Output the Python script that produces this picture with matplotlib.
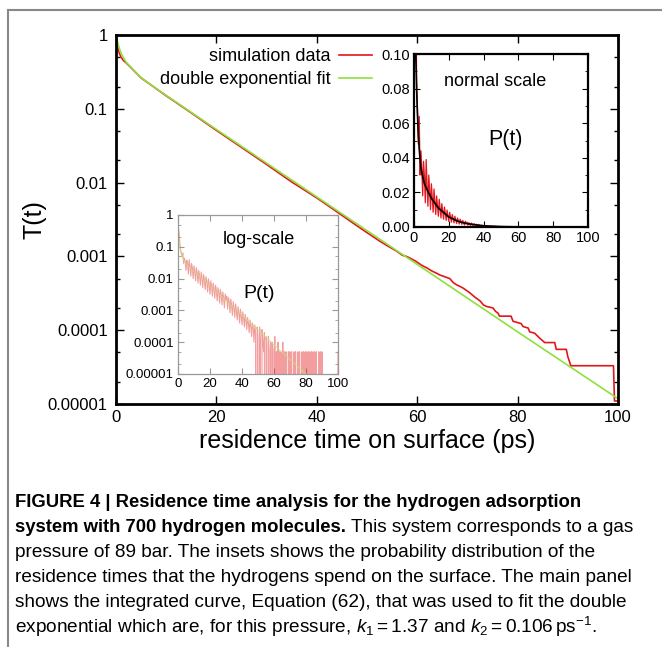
import numpy as np
import matplotlib
matplotlib.use('Agg')
import matplotlib.pyplot as plt
from matplotlib.lines import Line2D
from matplotlib.ticker import LogLocator, MultipleLocator, FormatStrFormatter, NullFormatter

plt.rcParams['font.family'] = ['Liberation Sans', 'DejaVu Sans']
plt.rcParams['mathtext.fontset'] = 'custom'
plt.rcParams['mathtext.rm'] = 'Liberation Sans'
plt.rcParams['mathtext.it'] = 'Liberation Sans:italic'

# main panel: integrated curve T(t)
sim_t = [0, 0.3, 0.6, 1.0, 1.5, 2.0, 3.0, 5.0, 10, 15, 20, 25, 30, 35, 40, 42, 45, 48, 50,
         52.6, 54, 55.9, 57, 58, 59.6, 61, 61.9, 63, 63.9, 64.5, 65.5, 66.5, 67.2, 67.9,
         68.6, 69.2, 70.5, 71.5, 72.5, 73.2, 73.8, 75.1, 75.6, 76.1, 76.4, 78.7, 79.1,
         80.7, 81.1, 82.1, 82.4, 83.4, 84.4, 85.4, 87.4, 87.7, 89.7, 90.0, 90.6, 99.1,
         99.3, 100]
sim_T = [0.92, 0.72, 0.58, 0.50, 0.45, 0.42, 0.36, 0.262, 0.15, 0.088, 0.051, 0.030,
         0.0176, 0.0102, 0.0062, 0.0050, 0.0036, 0.0026, 0.0021,
         0.0016, 0.0014, 0.00118, 0.00104, 0.00099, 0.00087, 0.00075, 0.00070,
         0.00063, 0.00059, 0.00056, 0.00053, 0.00050, 0.00044, 0.00041,
         0.00039, 0.00037, 0.00032, 0.00028, 0.00025, 0.00022, 0.00021, 0.00020,
         0.00018, 0.00017, 0.000155, 0.000155, 0.000132,
         0.000123, 0.000112, 0.000107, 0.000095, 0.000091, 0.000078, 0.000068,
         0.000068, 0.000055, 0.000055, 0.000044, 0.000033, 0.000033,
         0.000011, 0.000011]
fit_t = [0, 0.25, 0.5, 0.75, 1, 1.5, 2, 2.5, 3, 4, 5, 7, 10, 20, 40, 60, 80, 100]
fit_T = [1.0, 0.84, 0.72, 0.63, 0.57, 0.49, 0.43, 0.395, 0.365, 0.31, 0.265, 0.21,
         0.152, 0.0525, 0.0064, 0.00078, 0.000095, 0.0000118]

# insets: probability distribution P(t), 0.5 ps bins
hist_t = np.arange(0, 100.5, 0.5)
hist_P = [
    0.62, 0.30, 0.16, 0.085, 0.066, 0.048, 0.064, 0.030, 0.044, 0.034,
    0.018, 0.038, 0.029, 0.014, 0.039, 0.024, 0.012, 0.030, 0.021, 0.010,
    0.025, 0.017, 0.0085, 0.022, 0.015, 0.0072, 0.018, 0.012, 0.0062, 0.016,
    0.0105, 0.0052, 0.0135, 0.0092, 0.0045, 0.0115, 0.0080, 0.0038, 0.0098, 0.0066,
    0.0032, 0.0085, 0.0057, 0.0028, 0.0072, 0.0049, 0.0024, 0.0062, 0.0042, 0.0020,
    0.0052, 0.0036, 0.0017, 0.0045, 0.0031, 0.0015, 0.0038, 0.0026, 0.0012, 0.0033,
    0.0022, 0.0028, 0.0011, 0.0025, 0.0019, 0.00085, 0.0023, 0.0014, 0.0007, 0.0019,
    0.0012, 0.0006, 0.0016, 0.0010, 0.0005, 0.0013, 0.00085, 0.0004, 0.0011, 0.0007,
    0.00035, 0.0009, 0.0006, 0.0003, 0.00075, 0.0005, 0.00025, 0.0006, 0.0004, 0.0002,
    0.0005, 0.00035, 0.00015, 0.0004, 0.0003, 0.0001, 0.00035, 0.0002, 0.0, 0.0003,
    0.00015, 0.0, 0.0003, 0.0001, 0.0, 0.00025, 0.0001, 0.00005, 0.0002, 0.0,
    0.00015, 0.0001, 0.0, 0.00015, 0.00005, 0.0, 0.0001, 0.0, 0.0001, 0.00005,
    0.0, 0.00015, 0.0, 0.00005, 0.0, 0.0001, 0.0, 0.00005, 0.0, 0.00005,
    0.0, 0.0001, 0.0, 0.00005, 0.0, 0.00005, 0.0, 0.0, 0.00005, 0.0,
    0.00005, 0.0, 0.00005, 0.0, 0.0, 0.00005, 0.0, 0.00005, 0.0, 0.0,
    0.00005, 0.0, 0.00005, 0.0, 0.0, 0.00005, 0.0, 0.00005, 0.0, 0.00005,
    0.0, 0.00005, 0.0, 0.00005, 0.0, 0.00005, 0.0, 0.00005, 0.0, 0.00005,
    0.0, 0.00005, 0.0, 0.00005, 0.0, 0.0, 0.00005, 0.0, 0.00005, 0.0,
    0.00005, 0.0, 0.0, 0.0, 0.0, 0.0, 0.0, 0.0, 0.0, 0.0,
    0.0, 0.0, 0.0, 0.0, 0.0, 0.0, 0.0, 0.0, 0.0, 0.0,
    0.00005]
pfit_t = [0, 0.5, 1, 1.5, 2, 2.5, 3, 3.5, 4, 5, 6, 8, 10, 14, 20, 25, 30, 40, 50,
          60, 70, 80, 90, 100]
pfit_P = [0.75, 0.20, 0.10, 0.08, 0.065, 0.053, 0.045, 0.039, 0.034, 0.029, 0.025,
          0.0205, 0.0166, 0.011, 0.0058, 0.0034, 0.0020, 0.00069, 0.00024,
          0.000083, 0.000029, 0.00001, 0.0000035, 0.0000012]

log_ticks = [1, 0.1, 0.01, 0.001, 0.0001, 0.00001]
log_labels = ['1', '0.1', '0.01', '0.001', '0.0001', '0.00001']

RED = '#e3161c'
GREEN = '#8fe03c'
W, H = 662, 647

fig = plt.figure(figsize=(W / 100, H / 100), dpi=100)


def box(x0, y0, x1, y1):
    return [x0 / W, 1 - y1 / H, (x1 - x0) / W, (y1 - y0) / H]


def px(x, y):
    return x / W, 1 - y / H


# ---- main panel
ax = fig.add_axes(box(116, 35, 618, 404))
ax.plot(sim_t, sim_T, color=RED, lw=1.2, label='simulation data')
ax.plot(fit_t, fit_T, color=GREEN, lw=1.2, label='double exponential fit')
ax.set_yscale('log')
ax.set_xlim(0, 100)
ax.set_ylim(1e-5, 1)
ax.set_xticks(range(0, 101, 20))
ax.set_yticks(log_ticks, labels=log_labels)
ax.yaxis.set_minor_locator(LogLocator(base=10, subs=(2, 5)))
ax.yaxis.set_minor_formatter(NullFormatter())
ax.tick_params(which='both', direction='in', top=True, right=True, labelsize=12)
ax.tick_params(which='major', length=6, width=1, pad=6)
ax.tick_params(which='minor', length=3, width=1)
ax.tick_params(axis='x', pad=4)
for s in ax.spines.values():
    s.set_linewidth(2)
ax.set_xlabel('residence time on surface (ps)', fontsize=18, labelpad=3)
ax.set_ylabel('T(t)', fontsize=18, labelpad=1)
ax.legend(loc='upper right', bbox_to_anchor=px(372, 48), bbox_transform=fig.transFigure,
          frameon=False, markerfirst=False, fontsize=13, handlelength=1.85,
          handletextpad=0.45, labelspacing=0.35, borderpad=0, borderaxespad=0)

# ---- inset: normal scale
axn = fig.add_axes(box(414, 54, 588, 227))
axn.plot(hist_t, hist_P, color=RED, lw=0.9)
axn.plot(pfit_t, pfit_P, color='black', lw=1.2)
axn.set_xlim(0, 100)
axn.set_ylim(0, 0.10)
axn.set_xticks(range(0, 101, 20))
axn.set_yticks([0, 0.02, 0.04, 0.06, 0.08, 0.10])
axn.yaxis.set_major_formatter(FormatStrFormatter('%.2f'))
axn.yaxis.set_minor_locator(MultipleLocator(0.01))
axn.tick_params(which='both', direction='in', top=True, right=True, labelsize=10.5, pad=3)
axn.tick_params(which='major', length=4)
axn.tick_params(which='minor', length=2)
for s in axn.spines.values():
    s.set_linewidth(1.6)
fig.text(*px(495, 82), 'normal scale', fontsize=13, ha='center', va='center')
fig.text(*px(505, 140), 'P(t)', fontsize=15.5, ha='center', va='center')

# ---- inset: log scale
axl = fig.add_axes(box(178, 215, 338, 374))
axl.plot(hist_t, hist_P, color=RED, lw=0.8, alpha=0.42)
axl.plot(pfit_t, pfit_P, color='#c9e07a', lw=0.8, alpha=0.8)
axl.set_yscale('log', nonpositive='clip')
axl.set_xlim(0, 100)
axl.set_ylim(1e-5, 1)
axl.set_xticks(range(0, 101, 20))
axl.set_yticks(log_ticks, labels=log_labels)
axl.yaxis.set_minor_locator(LogLocator(base=10, subs=(2, 5)))
axl.yaxis.set_minor_formatter(NullFormatter())
axl.tick_params(which='both', direction='in', top=True, right=True, labelsize=9.5,
                color='#999999', pad=3)
axl.tick_params(which='major', length=4)
axl.tick_params(which='minor', length=2)
for s in axl.spines.values():
    s.set_linewidth(0.9)
    s.set_color('#999999')
fig.text(*px(259, 239), 'log-scale', fontsize=13, ha='center', va='center')
fig.text(*px(259, 293), 'P(t)', fontsize=14, ha='center', va='center')

# ---- outer frame
fig.add_artist(Line2D([8 / W, 8 / W], [1 - 10 / H, 0], transform=fig.transFigure,
                      color='#888888', lw=1.5))
fig.add_artist(Line2D([8 / W, 1], [1 - 10 / H, 1 - 10 / H], transform=fig.transFigure,
                      color='#888888', lw=1.5))

# ---- caption
cx = 15
cfs = 13.7
base = [507, 532, 557, 582, 607, 633]
fig.text(*px(cx, base[0]), 'FIGURE 4 | Residence time analysis for the hydrogen adsorption',
         fontsize=13.3, weight='bold', va='baseline')
tb = fig.text(*px(cx, base[1]), 'system with 700 hydrogen molecules.',
              fontsize=13.3, weight='bold', va='baseline')
renderer = fig.canvas.get_renderer()
bb = tb.get_window_extent(renderer)
fig.text(bb.x1 / W + 5 / W, 1 - base[1] / H, 'This system corresponds to a gas',
         fontsize=cfs, va='baseline')
fig.text(*px(cx, base[2]), 'pressure of 89 bar. The insets shows the probability distribution of the',
         fontsize=cfs, va='baseline')
fig.text(*px(cx, base[3]), 'residence times that the hydrogens spend on the surface. The main panel',
         fontsize=cfs, va='baseline')
fig.text(*px(cx, base[4]), 'shows the integrated curve, Equation (62), that was used to fit the double',
         fontsize=cfs, va='baseline')
fig.text(*px(cx, base[5]),
         r'exponential which are, for this pressure, $k_1 = 1.37$ and $k_2 = 0.106\,\mathrm{ps}^{-1}$.',
         fontsize=cfs, va='baseline')

fig.savefig('out.png', dpi=100)
